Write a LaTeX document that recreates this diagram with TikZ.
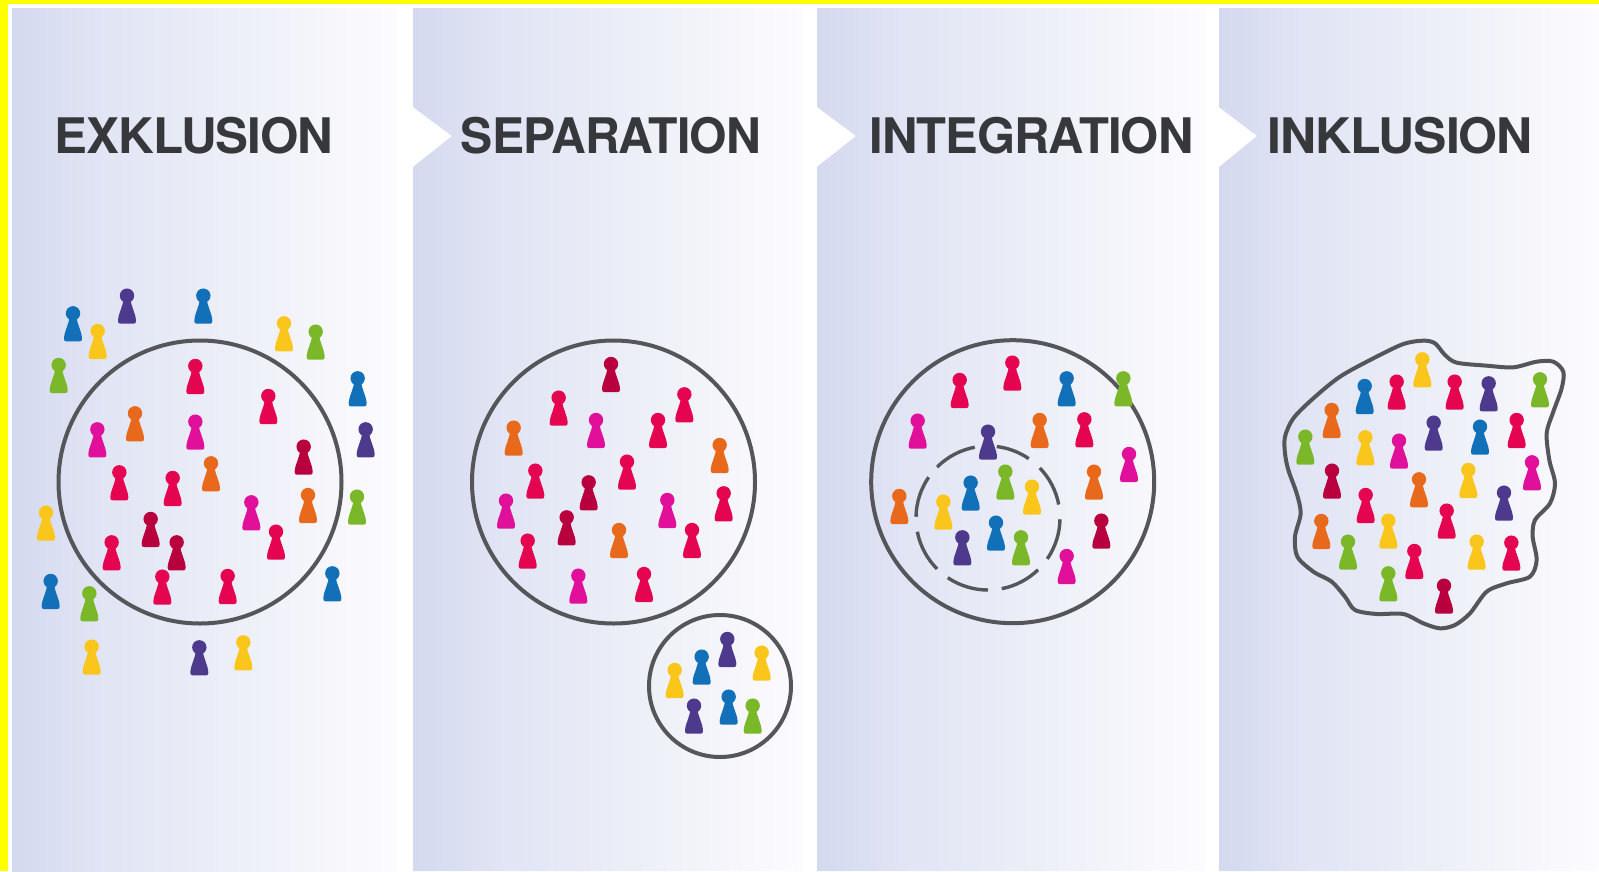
\documentclass[tikz,border=0pt]{standalone}
\usepackage{fontspec}
\setmainfont{TeX Gyre Heros}
\newfontfamily\headfont[LetterSpace=-2]{TeX Gyre Heros}
\definecolor{pr}{HTML}{E4044F}
\definecolor{pd}{HTML}{B8003E}
\definecolor{pm}{HTML}{E0109A}
\definecolor{po}{HTML}{E8691C}
\definecolor{py}{HTML}{FBC61C}
\definecolor{pg}{HTML}{7AB82A}
\definecolor{pb}{HTML}{1170B8}
\definecolor{pu}{HTML}{4E3A8C}
\definecolor{ringc}{HTML}{55565A}
\definecolor{headc}{HTML}{36383C}
\definecolor{yb}{HTML}{FFFF00}
\definecolor{c1}{HTML}{D5D9EF}
\definecolor{c2}{HTML}{E1E5F4}
\definecolor{c3}{HTML}{EAEDF7}
\definecolor{c4}{HTML}{F3F4FA}
\definecolor{c5}{HTML}{FCFBFF}
\pgfdeclarehorizontalshading{panelshade}{100bp}{color(0bp)=(c1);color(25bp)=(c1);color(37bp)=(c2);color(50bp)=(c3);color(62bp)=(c4);color(75bp)=(c5);color(100bp)=(c5)}
\tikzset{
  panelbox/.style={shading=panelshade,draw=none},
  ring/.style={draw=ringc,line width=4pt},
  dashring/.style={draw=ringc,line width=3.4pt},
  headline/.style={font=\headfont\bfseries\fontsize{49}{49}\selectfont,text=headc,inner sep=0pt,anchor=center,transform shape},
}
\newcommand{\pawnat}[3]{%
  \begin{scope}[shift={(#1,#2)}]
  \fill[#3] (0,0) circle[radius=7.2];
  \fill[#3] (-3.6,3) .. controls (-3.8,11) and (-8.6,17) .. (-9,25)
    .. controls (-9.1,27.2) and (-8.4,28) .. (-6.8,28) -- (6.8,28)
    .. controls (8.4,28) and (9.1,27.2) .. (9,25)
    .. controls (8.6,17) and (3.8,11) .. (3.6,3) -- cycle;
  \end{scope}}
\newcommand{\pawngroup}[3]{%
  \foreach \zx/\zy/\zc in {#3} {\pawnat{{#1+\zx/3}}{{#2+\zy/3}}{\zc}}}
\begin{document}
\begin{tikzpicture}[x=1pt,y=-1pt]
\useasboundingbox (0,0) rectangle (1599,871);
\fill[white] (0,0) rectangle (1599,871);
% panels
\path[panelbox] (12,8) rectangle (398,871);
\path[panelbox] (413,8) -- (803,8) -- (803,871) -- (413,871) -- (413,167) -- (452,136) -- (413,107) -- cycle;
\path[panelbox] (817,8) -- (1205,8) -- (1205,871) -- (817,871) -- (817,167) -- (856,136) -- (817,107) -- cycle;
\path[panelbox] (1219,8) -- (1599,8) -- (1599,871) -- (1219,871) -- (1219,167) -- (1257,136) -- (1219,107) -- cycle;
% yellow frame
\fill[yb] (0,0) rectangle (1599,4);
\fill[yb] (0,0) rectangle (8,871);
% headings
\node[headline,xscale=1.007] (t1) at (194,136) {EXKLUSION};
\node[headline,xscale=.983] (t2) at (611,136) {SEPARATION};
\node[headline] (t3) at (1031.5,136) {INTEGRATION};
\node[headline,xscale=1.02] (t4) at (1400,136) {INKLUSION};
% rings
\draw[ring] (200,482) circle[radius=141.5];
\draw[ring] (613.5,482) circle[radius=141.5];
\draw[ring] (720,686) circle[radius=71];
\draw[ring] (1012.7,481.7) circle[radius=141.5];
\foreach \aa/\ab in {135/100.6,83/55.5,44/10.8,-1/-34.6,-46/-79,-90/-124,-135/-169,179/145.5}
  \draw[dashring] ([shift={(988,518)}]-\aa:72) arc[start angle=-\aa,end angle=-\ab,radius=72];
% blob
\begin{scope}[shift={(1260,320)},x=0.33333pt,y=-0.33333pt]
\draw[ring] plot[smooth cycle,tension=.5] coordinates {(75,350)(100,295)(160,235)(240,170)(340,115)(430,72)(490,62)(525,70)(555,105)(590,128)(680,137)(760,142)(830,125)(880,125)(910,155)(905,205)(880,275)(860,340)(868,420)(885,490)(870,550)(825,600)(818,650)(830,720)(810,770)(740,790)(680,815)(630,880)(585,915)(540,925)(490,910)(430,882)(350,882)(285,870)(255,830)(215,785)(160,755)(112,710)(105,650)(122,580)(110,520)(85,450)(75,400)};
\end{scope}
% pawns
\pawngroup{0}{270}{381/77/pu,610/77/pb,219/130/pb,293/183/py,852/160/py,947/185/pg,176/285/pg,1073/325/pb,1097/478/pu,586/288/pr,805/378/pr,405/430/po,292/478/pm,586/455/pm,911/530/pd,358/607/pr,518/624/pr,633/580/po,452/747/pd,754/697/pm,924/675/po,1071/680/pg,138/728/py,335/817/pr,530/817/pd,828/785/pr,997/910/pb,487/920/pr,683/918/pr,152/933/pb,268/970/pg,275/1130/py,598/1132/pu,730/1117/py}
\pawngroup{460}{330}{453/102/pd,296/203/pr,673/193/pr,408/270/pm,594/270/pr,161/293/po,779/345/po,501/395/pr,226/422/pr,386/457/pd,138/512/pm,622/510/pm,791/490/pr,320/562/pd,477/600/po,696/600/pr,203/632/pr,355/737/pm,552/732/pr,802/927/pu,905/968/py,725/980/pb,644/1020/py,806/1100/pb,702/1127/pu,878/1127/pg}
\pawngroup{860}{330}{299/150/pr,457/98/pr,620/145/pb,790/145/pg,173/272/pm,384/305/pu,539/270/po,673/268/pr,807/372/pm,702/425/po,436/425/pg,332/458/pb,516/470/py,250/515/py,118/498/po,724/572/pd,408/578/pb,307/622/pu,483/622/pg,620/678/pm}
\pawngroup{1260}{320}{487/118/py,410/185/pr,584/185/pr,686/190/pu,840/178/pg,314/198/pb,215/270/po,521/308/pu,660/320/pb,770/300/pr,136/350/pg,316/352/py,417/362/pm,816/427/pm,216/452/pd,477/478/po,625/450/py,317/525/pr,732/518/pu,560/572/pr,184/603/po,385/602/py,264/665/pg,650/665/py,754/668/pr,463/693/pr,385/760/pg,552/797/pd}
\end{tikzpicture}
\end{document}
